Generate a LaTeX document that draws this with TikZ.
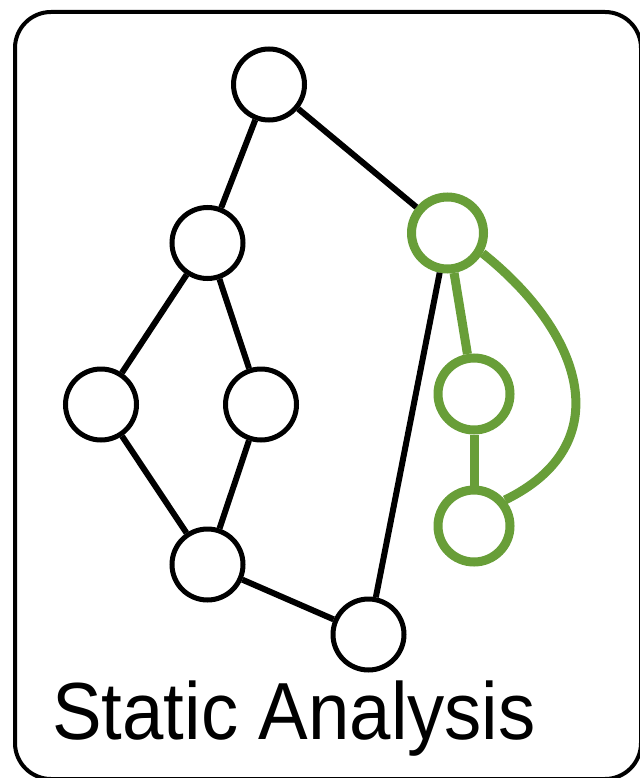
\documentclass[tikz,border=0pt]{standalone}
\usepackage{fontspec}
\newfontfamily\labelfont{Liberation Sans}
\definecolor{leafgreen}{RGB}{104,158,56}
\begin{document}
\begin{tikzpicture}[x=1pt,y=-1pt,
  bnode/.style={circle,draw=black,line width=5pt,fill=white,minimum size=71pt,inner sep=0pt},
  gnode/.style={circle,draw=leafgreen,line width=9pt,fill=white,minimum size=72pt,inner sep=0pt},
  bedge/.style={draw=black,line width=6pt},
  gedge/.style={draw=leafgreen,line width=9pt},
  frame/.style={draw=black,line width=4pt,rounded corners=36pt}]
\useasboundingbox (0,0) rectangle (639,778);
\draw[frame] (15,12) rectangle (641,779);
\node[bnode] (a) at (269,84.5) {};
\node[bnode] (b) at (207.5,243) {};
\node[bnode] (c) at (101,404.5) {};
\node[bnode] (d) at (261,404.5) {};
\node[bnode] (e) at (207.5,564.5) {};
\node[bnode] (f) at (368.5,634.5) {};
\node[gnode] (g) at (447.5,233) {};
\node[gnode] (h) at (474,394) {};
\node[gnode] (i) at (474,526) {};
\draw[bedge] (a) -- (b);
\draw[bedge] (a) -- (g);
\draw[bedge] (b) -- (c);
\draw[bedge] (b) -- (d);
\draw[bedge] (c) -- (e);
\draw[bedge] (d) -- (e);
\draw[bedge] (e) -- (f);
\draw[bedge] (f) -- (g);
\draw[gedge] (g) -- (h);
\draw[gedge] (h) -- (i);
\draw[gedge] (g.-30) .. controls (585,335) and (618,445) .. (i.40);
\node[anchor=base,inner sep=0pt] (title) at (294,739)
  {\scalebox{0.918}[1]{\fontsize{81}{81}\selectfont\labelfont Static Analysis}};
\end{tikzpicture}
\end{document}
